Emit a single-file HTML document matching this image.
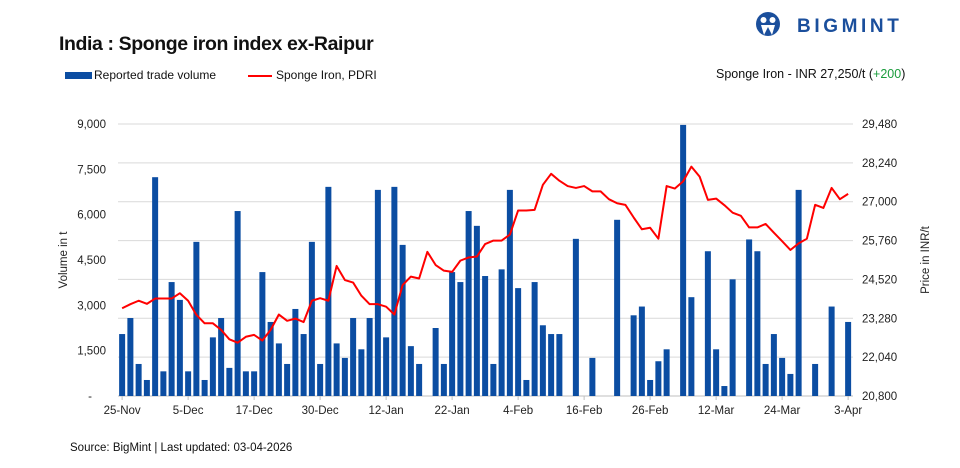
<!DOCTYPE html>
<html><head><meta charset="utf-8"><style>
html,body{margin:0;padding:0;background:#fff}
body{width:960px;height:468px;position:relative;overflow:hidden;font-family:"Liberation Sans",sans-serif;color:#111}
.t{position:absolute;white-space:nowrap}
</style></head><body>
<div class="t" style="left:59px;top:33px;font-size:19.5px;font-weight:bold;letter-spacing:-0.4px">India : Sponge iron index ex-Raipur</div>
<div style="position:absolute;left:755px;top:11px">
<svg width="160" height="26"><circle cx="13" cy="13" r="12" fill="#1b4f9c"/><circle cx="8.5" cy="9" r="3" fill="#fff"/><circle cx="17.5" cy="9" r="3" fill="#fff"/><path d="M6 14 L9 24 L13 16 L17 24 L20 14 Z" fill="#fff"/>
<text x="42" y="21" font-family="Liberation Sans" font-weight="bold" font-size="19" letter-spacing="3.6" fill="#1b4f9c">BIGMINT</text></svg></div>
<div style="position:absolute;left:65px;top:72px;width:27px;height:7px;background:#0b4da2"></div>
<div class="t" style="left:94px;top:68px;font-size:12px">Reported trade volume</div>
<div style="position:absolute;left:248px;top:75px;width:24px;height:2px;background:#f00"></div>
<div class="t" style="left:276px;top:68px;font-size:12px">Sponge Iron, PDRI</div>
<div class="t" style="left:716px;top:67px;font-size:12.5px">Sponge Iron - INR 27,250/t (<span style="color:#1a9c3c">+200</span>)</div>
<div class="t" style="left:70px;top:442px;font-size:11.5px">Source: BigMint | Last updated: 03-04-2026</div>
<svg id="c" width="960" height="468" style="position:absolute;left:0;top:0"></svg>
<script>
const categories=['25-Nov','5-Dec','17-Dec','30-Dec','12-Jan','22-Jan','4-Feb','16-Feb','26-Feb','12-Mar','24-Mar','3-Apr'];
const volume=[2050,2580,1060,530,7240,816,3770,3180,816,5100,530,1940,2580,930,6120,816,816,4100,2450,1740,1060,2880,2050,5100,1060,6920,
1740,1260,2580,1545,2580,6820,1940,6920,5000,1650,1060,0,2250,1060,4100,3770,6120,5630,3970,1060,4190,6820,3570,530,3770,2340,2050,2050,0,5200,0,
1260,0,0,5830,0,2670,2960,530,1150,1545,0,8970,3270,0,4790,1545,330,3860,0,5180,4790,1060,2050,1260,730,6820,0,1060,0,2960,0,2450];
const price=[23600,23730,23840,23740,23910,23910,23910,24080,23840,23390,23120,23120,22910,22610,22500,22690,22750,22570,22910,23400,23200,23270,23160,23840,23920,23840,
24950,24500,24420,24000,23730,23730,23650,23400,24340,24610,24550,25400,24980,24800,24760,25120,25220,25250,25650,25760,25760,25950,26720,26720,26740,27540,27890,27670,27500,27440,27500,
27330,27330,27080,26950,26900,26500,26120,26170,25820,27500,27420,27650,28120,27800,27060,27100,26890,26650,26550,26180,26180,26290,26010,25740,25460,25670,25820,26900,26800,27440,27080,27250];
const leftTicks=['-','1,500','3,000','4,500','6,000','7,500','9,000'];
const rightTicks=['20,800','22,040','23,280','24,520','25,760','27,000','28,240','29,480'];
const NS='http://www.w3.org/2000/svg',svg=document.getElementById('c');
const X0=118,SL=8.25,Y0=396,Y1=124;
const x=i=>X0+SL*(i+0.5);
const yL=v=>Y0-(v/9000)*(Y0-Y1);
const yR=v=>Y0-((v-20800)/8680)*(Y0-Y1);
function mk(t,a){const e=document.createElementNS(NS,t);for(const k in a)e.setAttribute(k,a[k]);svg.appendChild(e);return e;}
rightTicks.forEach((s,i)=>{const y=Y0-i*(Y0-Y1)/7;
const g=mk('line',{x1:X0,x2:853,y1:y,y2:y,stroke:i?'#d9d9d9':'#bfbfbf','stroke-width':1});


const t=mk('text',{x:862,y:y+4,'font-size':11.5,'font-family':'Liberation Sans',fill:'#222'});t.textContent=s;

});
leftTicks.forEach((s,i)=>{const y=yL(i*1500);
const t=mk('text',{x:i?106:92,y:y+4,'text-anchor':'end','font-size':11.5,'font-family':'Liberation Sans',fill:'#222'});t.textContent=s;

});
volume.forEach((v,i)=>{if(!v)return;const b=mk('rect',{x:x(i)-3,y:yL(v),width:6,height:Y0-yL(v),fill:'#0b4da2'});

});
const l=mk('polyline',{points:price.map((p,i)=>x(i)+','+yR(p)).join(' '),fill:'none',stroke:'#f00','stroke-width':2,'stroke-linejoin':'round'});


categories.forEach((c,k)=>{const i=k*8;
const tk=mk('line',{x1:x(i),x2:x(i),y1:Y0,y2:Y0+4,stroke:'#bfbfbf'});


const t=mk('text',{x:x(i),y:414,'text-anchor':'middle','font-size':11.5,'font-family':'Liberation Sans',fill:'#222'});t.textContent=c;

});
const a1=mk('text',{x:0,y:0,transform:'translate(67,260) rotate(-90)','text-anchor':'middle','font-size':11.5,'font-family':'Liberation Sans',fill:'#222'});a1.textContent='Volume in t';


const a2=mk('text',{x:0,y:0,transform:'translate(929,260) rotate(-90)','text-anchor':'middle','font-size':11.5,'font-family':'Liberation Sans',fill:'#222'});a2.textContent='Price in INR/t';


</script>
</body></html>
